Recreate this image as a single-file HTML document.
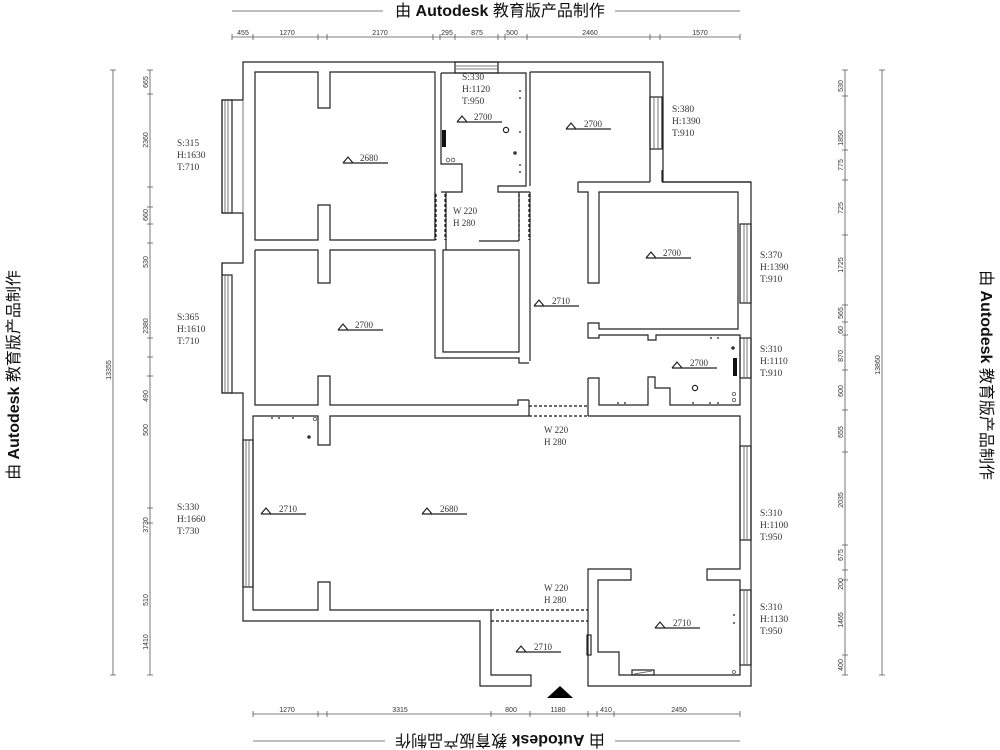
<!DOCTYPE html>
<html><head><meta charset="utf-8"><style>
html,body{margin:0;padding:0;background:#fff;}
svg{display:block;}
.w{fill:none;stroke:#222;stroke-width:1.2;}
.t{stroke:#555;stroke-width:0.8;fill:none;}
.d{fill:none;stroke:#111;stroke-width:1.2;stroke-dasharray:3,2;}
.s{font-family:"Liberation Serif",serif;font-size:9.5px;fill:#333;}
.m{font-family:"Liberation Serif",serif;font-size:9px;fill:#333;}
.dim{font-family:"Liberation Sans",sans-serif;font-size:7px;fill:#333;}
.wm{font-family:"Liberation Sans","Noto Sans CJK SC",sans-serif;font-size:16px;fill:#111;}
</style></head><body>
<svg width="1000" height="750" viewBox="0 0 1000 750" xmlns="http://www.w3.org/2000/svg">
<rect width="1000" height="750" fill="#fff"/>

<!-- watermarks -->
<line x1="232" y1="11" x2="740" y2="11" class="t"/>
<rect x="383" y="1" width="232" height="18" fill="#fff"/>
<text x="500" y="16" text-anchor="middle" class="wm">由 <tspan font-weight="bold">Autodesk</tspan> 教育版产品制作</text>
<line x1="253" y1="741" x2="740" y2="741" class="t"/>
<g transform="translate(500,741) rotate(180)"><rect x="-115" y="-8" width="230" height="17" fill="#fff"/><text x="0" y="6" text-anchor="middle" class="wm">由 <tspan font-weight="bold">Autodesk</tspan> 教育版产品制作</text></g>
<g transform="translate(14,375) rotate(-90)"><text x="0" y="5" text-anchor="middle" class="wm">由 <tspan font-weight="bold">Autodesk</tspan> 教育版产品制作</text></g>
<g transform="translate(986,375) rotate(90)"><text x="0" y="5" text-anchor="middle" class="wm">由 <tspan font-weight="bold">Autodesk</tspan> 教育版产品制作</text></g>

<!-- top dims -->
<line x1="232" y1="37" x2="740" y2="37" class="t"/>
<g class="t">
<path d="M232,34v6M253,34v6M318,34v6M327,34v6M433,34v6M440,34v6M455,34v6M498,34v6M505,34v6M527,34v6M650,34v6M660,34v6M740,34v6"/>
</g>
<g class="dim" text-anchor="middle">
<text x="243" y="35">455</text><text x="287" y="35">1270</text><text x="380" y="35">2170</text><text x="447" y="35">295</text><text x="477" y="35">875</text><text x="512" y="35">500</text><text x="590" y="35">2460</text><text x="700" y="35">1570</text>
</g>
<!-- bottom dims -->
<line x1="253" y1="714" x2="740" y2="714" class="t"/>
<path class="t" d="M253,711v6M318,711v6M327,711v6M491,711v6M530,711v6M588,711v6M597,711v6M614,711v6M740,711v6"/>
<g class="dim" text-anchor="middle">
<text x="287" y="712">1270</text><text x="400" y="712">3315</text><text x="511" y="712">800</text><text x="558" y="712">1180</text><text x="606" y="712">410</text><text x="679" y="712">2450</text>
</g>
<!-- left dims -->
<line x1="113" y1="70" x2="113" y2="675" class="t"/>
<path class="t" d="M110,70h6M110,675h6"/>
<line x1="150" y1="70" x2="150" y2="675" class="t"/>
<path class="t" d="M147,70h6M147,94h6M147,187h6M147,207h6M147,224h6M147,243h6M147,338h6M147,357h6M147,376h6M147,508h6M147,523h6M147,675h6"/>
<g class="dim" text-anchor="middle">
<text transform="translate(148,82) rotate(-90)">665</text>
<text transform="translate(148,140) rotate(-90)">2360</text>
<text transform="translate(148,215) rotate(-90)">660</text>
<text transform="translate(148,262) rotate(-90)">530</text>
<text transform="translate(148,326) rotate(-90)">2380</text>
<text transform="translate(148,396) rotate(-90)">490</text>
<text transform="translate(148,430) rotate(-90)">500</text>
<text transform="translate(148,525) rotate(-90)">3730</text>
<text transform="translate(148,600) rotate(-90)">510</text>
<text transform="translate(148,642) rotate(-90)">1410</text>
<text transform="translate(111,370) rotate(-90)">13355</text>
</g>
<!-- right dims -->
<line x1="845" y1="70" x2="845" y2="675" class="t"/>
<path class="t" d="M842,70h6M842,96h6M842,150h6M842,180h6M842,235h6M842,305h6M842,322h6M842,335h6M842,370h6M842,410h6M842,452h6M842,545h6M842,570h6M842,580h6M842,655h6M842,675h6"/>
<line x1="882" y1="70" x2="882" y2="675" class="t"/>
<path class="t" d="M879,70h6M879,675h6"/>
<g class="dim" text-anchor="middle">
<text transform="translate(843,86) rotate(-90)">530</text>
<text transform="translate(843,138) rotate(-90)">1850</text>
<text transform="translate(843,165) rotate(-90)">775</text>
<text transform="translate(843,208) rotate(-90)">725</text>
<text transform="translate(843,265) rotate(-90)">1725</text>
<text transform="translate(843,313) rotate(-90)">565</text>
<text transform="translate(843,330) rotate(-90)">60</text>
<text transform="translate(843,356) rotate(-90)">870</text>
<text transform="translate(843,391) rotate(-90)">600</text>
<text transform="translate(843,432) rotate(-90)">655</text>
<text transform="translate(843,500) rotate(-90)">2035</text>
<text transform="translate(843,555) rotate(-90)">675</text>
<text transform="translate(843,584) rotate(-90)">200</text>
<text transform="translate(843,620) rotate(-90)">1465</text>
<text transform="translate(843,665) rotate(-90)">400</text>
<text transform="translate(880,365) rotate(-90)">13860</text>
</g>

<!-- outer walls -->
<path class="w" d="M243,100 V62 H663 V182 H751 V686 H588 V569 H631 V580 H598 V652 H619 V675 H740 V580 H707 V569 H740 V416 H588"/>
<path class="w" d="M243,100 H222 V213 H243 V263 H222 V393 H243 V621 H480 V686 H531 V675 H491 V610 H330 V582 H318 V610 H253 V416 H318 V445 H330 V416 H529"/>
<!-- dashed door living/hall -->
<path class="d" d="M529,406 H588 M529,416 H588"/>
<path class="d" d="M491,610 H588 M491,621 H588"/>
<path class="w" d="M529,400 V416 M588,378 V416"/>

<!-- top-left bedroom -->
<path class="w" d="M255,72 H318 V108 H330 V72 H435 V240 H330 V205 H318 V240 H255 Z"/>
<!-- middle-left bedroom -->
<path class="w" d="M255,250 H318 V283 H330 V250 H435 V358 H519 V363 H529 M255,250 V405 H318 V376 H330 V405 H518 V400 H529"/>
<!-- closet -->
<path class="w" d="M443,250 H519 V352 H443 Z M443,241 H443 M479,241 H519"/>
<!-- bathroom -->
<path class="w" d="M441,73 H526 V186 H498 V192 H530 M441,73 V164 H462 V192 H441 M530,72 V186"/>
<path class="w" d="M435,192 V240 M446,192 V250 M519,192 V241 M530,192 V361"/>
<path class="d" d="M436,194 V240 M445,194 V240 M519,194 V240 M529,194 V240"/>
<rect x="455" y="62" width="43" height="11" fill="#fff" class="w"/>
<path class="t" d="M455,66 H498 M455,69 H498"/>
<rect x="442" y="130" width="4" height="17" fill="#111"/>
<circle cx="448" cy="160" r="1.8" class="t"/><circle cx="453" cy="160" r="1.8" class="t"/>
<circle cx="506" cy="130" r="2.6" class="w"/><circle cx="515" cy="153" r="1.8" fill="#333"/>
<g fill="#111"><circle cx="520" cy="91" r="0.9"/><circle cx="520" cy="98" r="0.9"/><circle cx="520" cy="132" r="0.9"/><circle cx="520" cy="165" r="0.9"/><circle cx="520" cy="172" r="0.9"/></g>

<!-- top-right room -->
<path class="w" d="M530,72 H650 V182 M662,170 V182 M578,182 H650 M662,182 H751 M578,182 V192 H588 V283 H599 V192 H738 V329 H599 V323 H588 V338 H599 V335 H648 V340 H656 V335 H740 V405 H670 V388 H655 V377 H648 V405 H599 V378 H588"/>
<rect x="650" y="97" width="12" height="52" fill="#fff" class="w"/>
<path class="t" d="M654,97V149 M658,97V149"/>

<!-- right windows -->
<g>
<rect x="740" y="224" width="11" height="79" fill="#fff" class="w"/><path class="t" d="M744,224V303 M747,224V303"/>
<rect x="740" y="338" width="11" height="40" fill="#fff" class="w"/><path class="t" d="M744,338V378 M747,338V378"/>
<rect x="740" y="446" width="11" height="94" fill="#fff" class="w"/><path class="t" d="M744,446V540 M747,446V540"/>
<rect x="740" y="590" width="11" height="75" fill="#fff" class="w"/><path class="t" d="M744,590V665 M747,590V665"/>
</g>
<!-- left windows -->
<g>
<rect x="222" y="100" width="10" height="113" fill="#fff" class="w"/><path class="t" d="M225,100V213 M228,100V213"/>
<line x1="243" y1="100" x2="243" y2="213" class="t"/>
<rect x="222" y="275" width="10" height="118" fill="#fff" class="w"/><path class="t" d="M225,275V393 M228,275V393"/>
<line x1="222" y1="263" x2="222" y2="275" class="w"/>
<rect x="243" y="440" width="10" height="147" fill="#fff" class="w"/><path class="t" d="M246,440V587 M249,440V587"/>
</g>

<!-- kitchen fixtures -->
<g fill="#111"><circle cx="711" cy="338" r="0.9"/><circle cx="718" cy="338" r="0.9"/><circle cx="618" cy="403" r="0.9"/><circle cx="625" cy="403" r="0.9"/><circle cx="693" cy="403" r="0.9"/><circle cx="710" cy="403" r="0.9"/><circle cx="718" cy="403" r="0.9"/></g>
<circle cx="733" cy="348" r="1.8" fill="#333"/><rect x="733" y="358" width="4" height="18" fill="#111"/>
<circle cx="695" cy="388" r="2.6" class="w"/>
<circle cx="734" cy="394" r="1.6" class="t"/><circle cx="734" cy="400" r="1.6" class="t"/>
<!-- living fixtures -->
<g fill="#111"><circle cx="272" cy="418" r="0.9"/><circle cx="279" cy="418" r="0.9"/><circle cx="293" cy="418" r="0.9"/></g>
<circle cx="315" cy="419" r="1.6" class="t"/><circle cx="309" cy="437" r="1.8" fill="#333"/>
<!-- lower right fixtures -->
<rect x="587" y="635" width="4" height="20" fill="#fff" class="w"/>
<rect x="632" y="670" width="22" height="5" fill="#fff" class="w"/><line x1="634" y1="674" x2="652" y2="671" class="t"/>
<g fill="#111"><circle cx="734" cy="615" r="0.9"/><circle cx="734" cy="623" r="0.9"/></g>
<circle cx="734" cy="672" r="1.5" class="t"/>

<!-- entrance -->
<polygon points="547,698 573,698 560,686" fill="#000"/>

<!-- elevation markers -->
<g class="w" stroke-width="1">
<path d="M343,163h45 M343,163l5,-6l5,6"/>
<path d="M457,122h45 M457,122l5,-6l5,6"/>
<path d="M566,129h45 M566,129l5,-6l5,6"/>
<path d="M646,258h45 M646,258l5,-6l5,6"/>
<path d="M534,306h45 M534,306l5,-6l5,6"/>
<path d="M338,330h45 M338,330l5,-6l5,6"/>
<path d="M672,368h45 M672,368l5,-6l5,6"/>
<path d="M261,514h45 M261,514l5,-6l5,6"/>
<path d="M422,514h45 M422,514l5,-6l5,6"/>
<path d="M655,628h45 M655,628l5,-6l5,6"/>
<path d="M516,652h45 M516,652l5,-6l5,6"/>
</g>
<g class="m">
<text x="360" y="161">2680</text><text x="474" y="120">2700</text><text x="584" y="127">2700</text><text x="663" y="256">2700</text><text x="552" y="304">2710</text><text x="355" y="328">2700</text><text x="690" y="366">2700</text><text x="279" y="512">2710</text><text x="440" y="512">2680</text><text x="673" y="626">2710</text><text x="534" y="650">2710</text>
</g>
<!-- door labels -->
<g class="m">
<text x="453" y="214">W 220</text><text x="453" y="226">H 280</text>
<text x="544" y="433">W 220</text><text x="544" y="445">H 280</text>
<text x="544" y="591">W 220</text><text x="544" y="603">H 280</text>
</g>
<!-- window labels -->
<g class="s">
<text x="462" y="80">S:330</text><text x="462" y="92">H:1120</text><text x="462" y="104">T:950</text>
<text x="672" y="112">S:380</text><text x="672" y="124">H:1390</text><text x="672" y="136">T:910</text>
<text x="760" y="258">S:370</text><text x="760" y="270">H:1390</text><text x="760" y="282">T:910</text>
<text x="760" y="352">S:310</text><text x="760" y="364">H:1110</text><text x="760" y="376">T:910</text>
<text x="760" y="516">S:310</text><text x="760" y="528">H:1100</text><text x="760" y="540">T:950</text>
<text x="760" y="610">S:310</text><text x="760" y="622">H:1130</text><text x="760" y="634">T:950</text>
<text x="177" y="146">S:315</text><text x="177" y="158">H:1630</text><text x="177" y="170">T:710</text>
<text x="177" y="320">S:365</text><text x="177" y="332">H:1610</text><text x="177" y="344">T:710</text>
<text x="177" y="510">S:330</text><text x="177" y="522">H:1660</text><text x="177" y="534">T:730</text>
</g>
</svg>
</body></html>
